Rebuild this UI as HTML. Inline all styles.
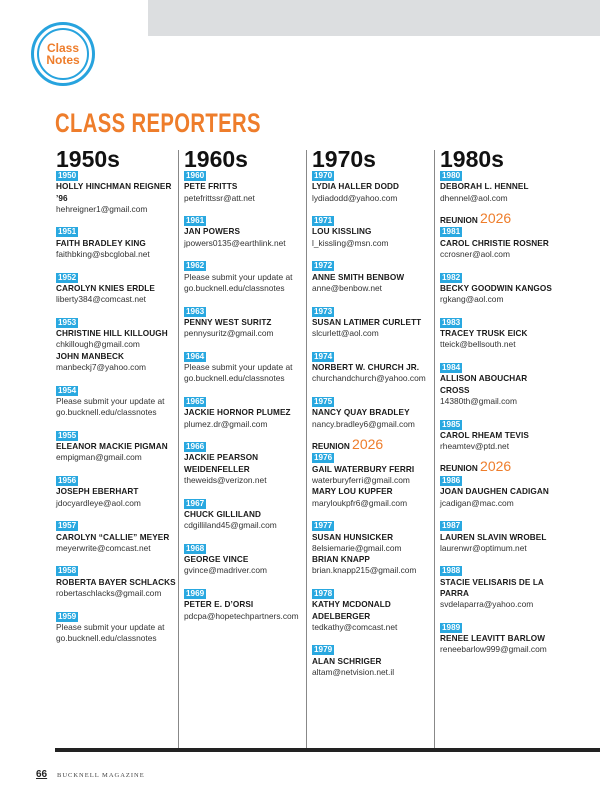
<!DOCTYPE html>
<html><head><meta charset="utf-8"><style>
*{margin:0;padding:0;box-sizing:border-box}
body{width:600px;height:803px;background:#fff;position:relative;overflow:hidden;font-family:"Liberation Sans",sans-serif}
.gray{position:absolute;left:148px;top:0;width:452px;height:36px;background:#dcdee0}
.circ{position:absolute;left:31px;top:22px;width:64px;height:64px;border-radius:50%;border:3px solid #27a3de}
.circ2{position:absolute;left:37px;top:28px;width:52px;height:52px;border-radius:50%;border:2px solid #27a3de;color:#ee7d2b;font-weight:bold;font-size:12px;line-height:12px;text-align:center;padding-top:12px}
h1{position:absolute;left:55px;top:108px;font-size:27px;color:#ee7d2b;font-weight:bold;transform:scaleX(.75);transform-origin:left;letter-spacing:.5px;white-space:nowrap}
.col{position:absolute;top:148px;width:124px}
.col h2{font-size:23px;font-weight:bold;color:#111;height:22px;line-height:22px;margin-bottom:0px}
.l{height:11.3px;line-height:11.3px;font-size:8.4px;white-space:nowrap;color:#333}
.n{font-weight:bold;color:#1a1a1a;font-size:8.2px;letter-spacing:.1px}
.t span{background:#29a8e0;color:#fff;font-weight:bold;font-size:8.2px;padding:0 2px;display:inline-block;height:10px;line-height:10px}
.r{font-weight:bold;color:#1a1a1a;font-size:8.2px;height:22.6px;line-height:14px;padding-top:7px}
.r b{color:#ee7d2b;font-size:14px;font-weight:normal}
.v{position:absolute;top:150px;height:598px;width:1px;background:#888}
.bar{position:absolute;left:55px;top:748px;width:545px;height:4px;background:#222}
.foot{position:absolute;left:36px;top:769px;font-size:10px;font-weight:bold;text-decoration:underline;color:#222}
.mag{position:absolute;left:57px;top:772px;font-family:"Liberation Serif",serif;font-size:6.5px;letter-spacing:1px;color:#444}
</style></head><body>
<div class="gray"></div>
<div class="circ"></div><div class="circ2">Class<br>Notes</div>
<h1>CLASS REPORTERS</h1>
<div class="v" style="left:178px"></div><div class="v" style="left:306px"></div><div class="v" style="left:434px"></div>

<div class="col" style="left:56px"><h2>1950s</h2>
<div class="l t"><span>1950</span></div><div class="l n">HOLLY HINCHMAN REIGNER</div><div class="l n">’96</div><div class="l">hehreigner1@gmail.com</div><div class="l"></div>
<div class="l t"><span>1951</span></div><div class="l n">FAITH BRADLEY KING</div><div class="l">faithbking@sbcglobal.net</div><div class="l"></div>
<div class="l t"><span>1952</span></div><div class="l n">CAROLYN KNIES ERDLE</div><div class="l">liberty384@comcast.net</div><div class="l"></div>
<div class="l t"><span>1953</span></div><div class="l n">CHRISTINE HILL KILLOUGH</div><div class="l">chkillough@gmail.com</div><div class="l n">JOHN MANBECK</div><div class="l">manbeckj7@yahoo.com</div><div class="l"></div>
<div class="l t"><span>1954</span></div><div class="l">Please submit your update at</div><div class="l">go.bucknell.edu/classnotes</div><div class="l"></div>
<div class="l t"><span>1955</span></div><div class="l n">ELEANOR MACKIE PIGMAN</div><div class="l">empigman@gmail.com</div><div class="l"></div>
<div class="l t"><span>1956</span></div><div class="l n">JOSEPH EBERHART</div><div class="l">jdocyardleye@aol.com</div><div class="l"></div>
<div class="l t"><span>1957</span></div><div class="l n">CAROLYN “CALLIE” MEYER</div><div class="l">meyerwrite@comcast.net</div><div class="l"></div>
<div class="l t"><span>1958</span></div><div class="l n">ROBERTA BAYER SCHLACKS</div><div class="l">robertaschlacks@gmail.com</div><div class="l"></div>
<div class="l t"><span>1959</span></div><div class="l">Please submit your update at</div><div class="l">go.bucknell.edu/classnotes</div>
</div>

<div class="col" style="left:184px"><h2>1960s</h2>
<div class="l t"><span>1960</span></div><div class="l n">PETE FRITTS</div><div class="l">petefrittssr@att.net</div><div class="l"></div>
<div class="l t"><span>1961</span></div><div class="l n">JAN POWERS</div><div class="l">jpowers0135@earthlink.net</div><div class="l"></div>
<div class="l t"><span>1962</span></div><div class="l">Please submit your update at</div><div class="l">go.bucknell.edu/classnotes</div><div class="l"></div>
<div class="l t"><span>1963</span></div><div class="l n">PENNY WEST SURITZ</div><div class="l">pennysuritz@gmail.com</div><div class="l"></div>
<div class="l t"><span>1964</span></div><div class="l">Please submit your update at</div><div class="l">go.bucknell.edu/classnotes</div><div class="l"></div>
<div class="l t"><span>1965</span></div><div class="l n">JACKIE HORNOR PLUMEZ</div><div class="l">plumez.dr@gmail.com</div><div class="l"></div>
<div class="l t"><span>1966</span></div><div class="l n">JACKIE PEARSON</div><div class="l n">WEIDENFELLER</div><div class="l">theweids@verizon.net</div><div class="l"></div>
<div class="l t"><span>1967</span></div><div class="l n">CHUCK GILLILAND</div><div class="l">cdgilliland45@gmail.com</div><div class="l"></div>
<div class="l t"><span>1968</span></div><div class="l n">GEORGE VINCE</div><div class="l">gvince@madriver.com</div><div class="l"></div>
<div class="l t"><span>1969</span></div><div class="l n">PETER E. D’ORSI</div><div class="l">pdcpa@hopetechpartners.com</div>
</div>

<div class="col" style="left:312px"><h2>1970s</h2>
<div class="l t"><span>1970</span></div><div class="l n">LYDIA HALLER DODD</div><div class="l">lydiadodd@yahoo.com</div><div class="l"></div>
<div class="l t"><span>1971</span></div><div class="l n">LOU KISSLING</div><div class="l">l_kissling@msn.com</div><div class="l"></div>
<div class="l t"><span>1972</span></div><div class="l n">ANNE SMITH BENBOW</div><div class="l">anne@benbow.net</div><div class="l"></div>
<div class="l t"><span>1973</span></div><div class="l n">SUSAN LATIMER CURLETT</div><div class="l">slcurlett@aol.com</div><div class="l"></div>
<div class="l t"><span>1974</span></div><div class="l n">NORBERT W. CHURCH JR.</div><div class="l">churchandchurch@yahoo.com</div><div class="l"></div>
<div class="l t"><span>1975</span></div><div class="l n">NANCY QUAY BRADLEY</div><div class="l">nancy.bradley6@gmail.com</div>
<div class="l r">REUNION <b>2026</b></div>
<div class="l t"><span>1976</span></div><div class="l n">GAIL WATERBURY FERRI</div><div class="l">waterburyferri@gmail.com</div><div class="l n">MARY LOU KUPFER</div><div class="l">maryloukpfr6@gmail.com</div><div class="l"></div>
<div class="l t"><span>1977</span></div><div class="l n">SUSAN HUNSICKER</div><div class="l">8elsiemarie@gmail.com</div><div class="l n">BRIAN KNAPP</div><div class="l">brian.knapp215@gmail.com</div><div class="l"></div>
<div class="l t"><span>1978</span></div><div class="l n">KATHY MCDONALD</div><div class="l n">ADELBERGER</div><div class="l">tedkathy@comcast.net</div><div class="l"></div>
<div class="l t"><span>1979</span></div><div class="l n">ALAN SCHRIGER</div><div class="l">altam@netvision.net.il</div>
</div>

<div class="col" style="left:440px"><h2>1980s</h2>
<div class="l t"><span>1980</span></div><div class="l n">DEBORAH L. HENNEL</div><div class="l">dhennel@aol.com</div>
<div class="l r">REUNION <b>2026</b></div>
<div class="l t"><span>1981</span></div><div class="l n">CAROL CHRISTIE ROSNER</div><div class="l">ccrosner@aol.com</div><div class="l"></div>
<div class="l t"><span>1982</span></div><div class="l n">BECKY GOODWIN KANGOS</div><div class="l">rgkang@aol.com</div><div class="l"></div>
<div class="l t"><span>1983</span></div><div class="l n">TRACEY TRUSK EICK</div><div class="l">tteick@bellsouth.net</div><div class="l"></div>
<div class="l t"><span>1984</span></div><div class="l n">ALLISON ABOUCHAR</div><div class="l n">CROSS</div><div class="l">14380th@gmail.com</div><div class="l"></div>
<div class="l t"><span>1985</span></div><div class="l n">CAROL RHEAM TEVIS</div><div class="l">rheamtev@ptd.net</div>
<div class="l r">REUNION <b>2026</b></div>
<div class="l t"><span>1986</span></div><div class="l n">JOAN DAUGHEN CADIGAN</div><div class="l">jcadigan@mac.com</div><div class="l"></div>
<div class="l t"><span>1987</span></div><div class="l n">LAUREN SLAVIN WROBEL</div><div class="l">laurenwr@optimum.net</div><div class="l"></div>
<div class="l t"><span>1988</span></div><div class="l n">STACIE VELISARIS DE LA</div><div class="l n">PARRA</div><div class="l">svdelaparra@yahoo.com</div><div class="l"></div>
<div class="l t"><span>1989</span></div><div class="l n">RENEE LEAVITT BARLOW</div><div class="l">reneebarlow999@gmail.com</div>
</div>

<div class="bar"></div>
<div class="foot">66</div>
<div class="mag">BUCKNELL MAGAZINE</div>
</body></html>
